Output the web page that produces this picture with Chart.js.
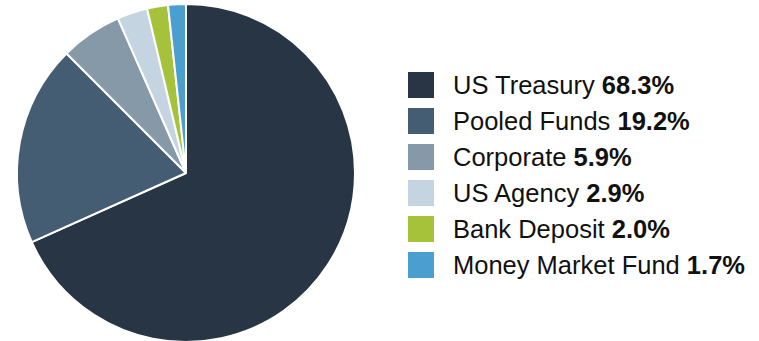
<!DOCTYPE html>
<html>
<head>
<meta charset="utf-8">
<script src="https://cdn.jsdelivr.net/npm/chart.js@4/dist/chart.umd.min.js"></script>
<style>
  html, body { margin: 0; padding: 0; background: #ffffff; }
  #wrap { position: relative; width: 759px; height: 341px; overflow: hidden; }
  #pieBox { position: absolute; left: 0; top: 0; width: 372px; height: 343px; }
  #legend { position: absolute; left: 408px; top: 72px; margin: 0; padding: 0; list-style: none;
            font-family: "Liberation Sans", Arial, sans-serif; font-size: 25.5px; color: #111; }
  #legend li { display: flex; align-items: center; height: 26px; margin-bottom: 10px; white-space: nowrap; }
  #legend .sw { width: 26px; height: 26px; margin-right: 19px; flex: none; }
  #legend b { font-weight: bold; }
</style>
</head>
<body>
<div id="wrap">
  <div id="pieBox"><canvas id="pie"></canvas></div>
  <ul id="legend"></ul>
</div>
<script>
// Portfolio allocation by asset type (percent of total)
const categories = ["US Treasury", "Pooled Funds", "Corporate", "US Agency", "Bank Deposit", "Money Market Fund"];
const shares = [68.3, 19.2, 5.9, 2.9, 2.0, 1.7];
const shareLabels = ["68.3%", "19.2%", "5.9%", "2.9%", "2.0%", "1.7%"];
const colors = ["#273544", "#455d72", "#8599a9", "#c4d4e0", "#a6c23a", "#4b9fcf"];

new Chart(document.getElementById("pie"), {
  type: "pie",
  data: {
    labels: categories,
    datasets: [{
      data: shares,
      backgroundColor: colors,
      borderColor: "#ffffff",
      borderWidth: 2
    }]
  },
  options: {
    responsive: true,
    maintainAspectRatio: false,
    animation: false,
    layout: { padding: { top: 3, bottom: 0, left: 0, right: 0 } },
    plugins: { legend: { display: false }, tooltip: { enabled: false } }
  }
});

// Legend: label in regular weight followed by the share in bold
const legend = document.getElementById("legend");
categories.forEach((name, i) => {
  const li = document.createElement("li");
  const sw = document.createElement("span");
  sw.className = "sw";
  sw.style.background = colors[i];
  const txt = document.createElement("span");
  txt.appendChild(document.createTextNode(name + " "));
  const b = document.createElement("b");
  b.textContent = shareLabels[i];
  txt.appendChild(b);
  li.appendChild(sw);
  li.appendChild(txt);
  legend.appendChild(li);
});
</script>
</body>
</html>
